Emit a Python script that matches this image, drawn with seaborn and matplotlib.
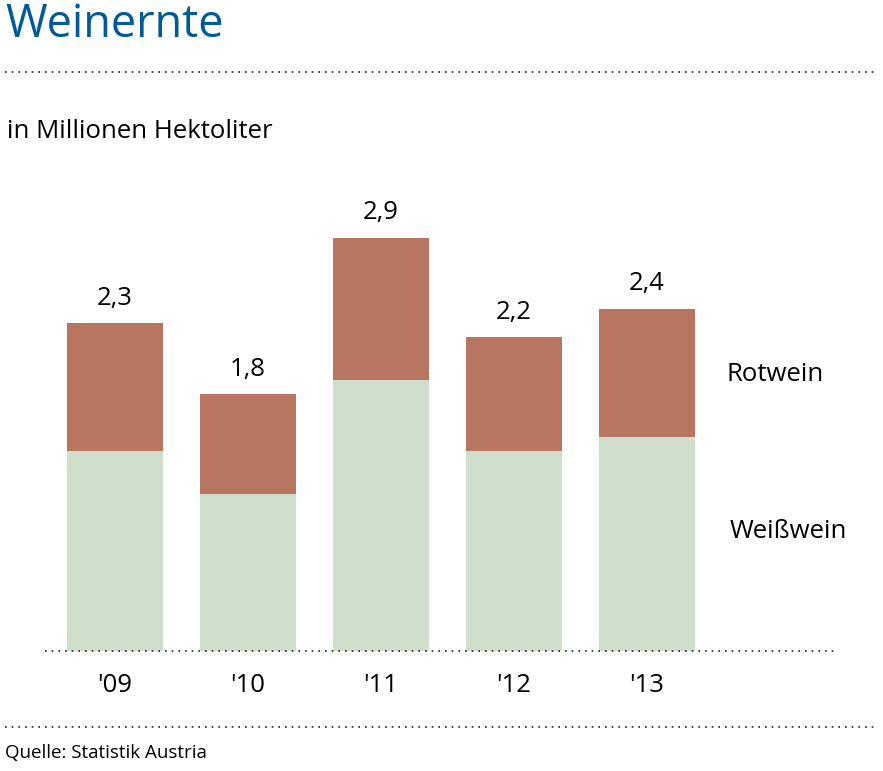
import matplotlib
matplotlib.use('Agg')
import matplotlib.pyplot as plt
import seaborn as sns
import pandas as pd
from matplotlib.lines import Line2D

# data (Mio. hl)
jahre = ["'09", "'10", "'11", "'12", "'13"]
weisswein = [1.4, 1.1, 1.9, 1.4, 1.5]
rotwein = [0.9, 0.7, 1.0, 0.8, 0.9]
gesamt_labels = ['2,3', '1,8', '2,9', '2,2', '2,4']

sns.set_style("white")
plt.rcParams['font.family'] = ['Open Sans', 'DejaVu Sans']
plt.rcParams['text.color'] = 'black'
plt.rcParams['xtick.color'] = 'black'

RED = '#b87660'
GREEN = '#d0dfcb'
BLUE = '#005a96'
FS = 18.5

W, H = 883, 771
fig = plt.figure(figsize=(W / 100, H / 100), dpi=100)

# axes in pixel coords: left 45, right 838, top 200, bottom 651
ax = fig.add_axes([45 / W, (H - 651) / H, (838 - 45) / W, (651 - 200) / H])

df = pd.DataFrame({'Jahr': jahre, 'Weisswein': weisswein, 'Rotwein': rotwein})
df['Gesamt'] = df['Weisswein'] + df['Rotwein']

sns.barplot(data=df, x='Jahr', y='Gesamt', color=RED, saturation=1, width=0.72,
            linewidth=0, ax=ax)
sns.barplot(data=df, x='Jahr', y='Weisswein', color=GREEN, saturation=1, width=0.72,
            linewidth=0, ax=ax)

ax.set_xlim(-0.526, 5.436)
ax.set_ylim(0, 3.163)
for s in ax.spines.values():
    s.set_visible(False)
ax.set_xlabel('')
ax.set_ylabel('')
ax.set_yticks([])
ax.tick_params(axis='x', length=0, pad=16, labelsize=FS, labelcolor='black')

for i, (tot, lab) in enumerate(zip(df['Gesamt'], gesamt_labels)):
    ax.text(i, tot + 0.175, lab, ha='center', va='center', fontsize=FS)

# baseline dotted
ax.axhline(0, color='#222222', linestyle=(0, (1, 3)), linewidth=1.2, clip_on=False)

ax.text(4.6, 1.94, 'Rotwein', ha='left', va='center', fontsize=FS)
ax.text(4.62, 0.84, 'Weißwein', ha='left', va='center', fontsize=FS)

# header / footer
fig.text(5 / W, 1 - 25 / H, 'Weinernte', color=BLUE, fontsize=32.5, ha='left', va='center')
fig.text(7 / W, 1 - 131 / H, 'in Millionen Hektoliter', fontsize=FS, ha='left', va='center')
fig.text(5 / W, 1 - 753 / H, 'Quelle: Statistik Austria', fontsize=13.5, ha='left', va='center')

for ypix in (72, 727):
    fig.add_artist(Line2D([5 / W, 878 / W], [1 - ypix / H, 1 - ypix / H], color='#222222',
                          linestyle=(0, (1, 3)), linewidth=1.2, transform=fig.transFigure))

fig.savefig('out.png', dpi=100)
